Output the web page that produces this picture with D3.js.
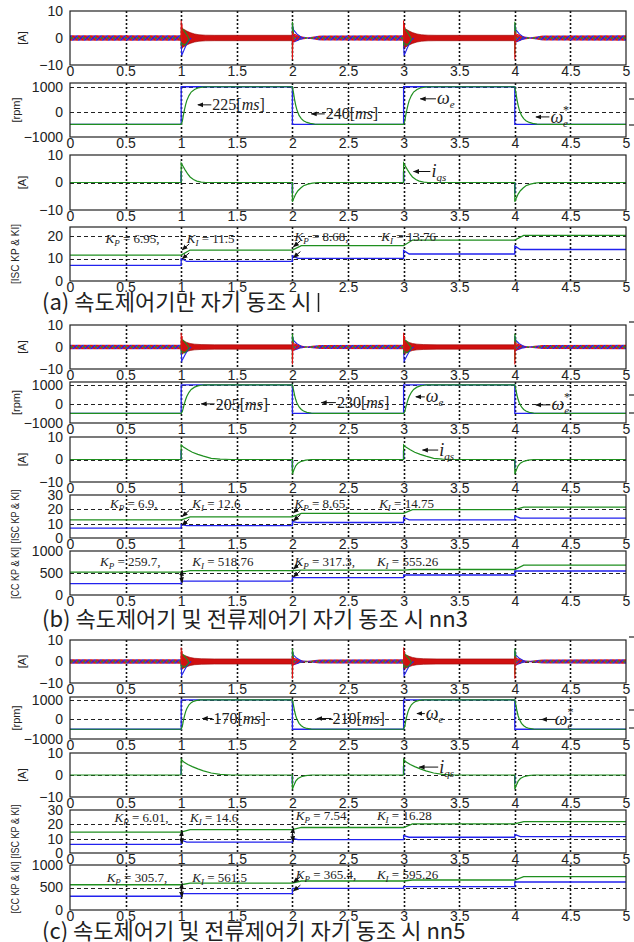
<!DOCTYPE html>
<html>
<head>
<meta charset="utf-8">
<script src="https://cdn.jsdelivr.net/npm/d3@7"></script>
<style>
  body { margin: 0; background: #fff; }
  svg { display: block; }
  .tick text { font-family: "Liberation Sans", Arial, sans-serif; font-size: 14px; fill: #222; }
  .ylab { font-family: "Liberation Sans", Arial, sans-serif; font-size: 11px; fill: #222; }
  .ann { font-family: "Liberation Serif", "Times New Roman", serif; fill: #222; }
  .cap { font-family: "Noto Sans CJK KR", sans-serif; font-size: 22px; fill: #222; }
</style>
</head>
<body>
<svg id="fig"></svg>
<script>
// ---------- data ----------
const xTicks = [0, 0.5, 1, 1.5, 2, 2.5, 3, 3.5, 4, 4.5, 5];
const stepTimes = [1, 2, 3, 4];
const stepDir = ["up", "down", "up", "down"];

// speed command (blue), rpm
const refT = [0, 1, 1, 2, 2, 3, 3, 4, 4, 5];
const refRpm = [-500, -500, 1000, 1000, -500, -500, 1000, 1000, -500, -500];

// measured speed after a step: [s after step, rpm]
const riseA = [[0,-500],[0.01,-380],[0.02,-120],[0.03,100],[0.04,290],[0.05,450],[0.07,650],[0.09,790],[0.12,890],[0.15,950],[0.19,985],[0.225,1000]];
const fallA = [[0,1000],[0.01,760],[0.02,480],[0.03,260],[0.04,90],[0.06,-140],[0.08,-270],[0.1,-350],[0.13,-420],[0.16,-460],[0.2,-487],[0.24,-500]];
const riseB = [[0,-500],[0.01,-400],[0.02,-180],[0.03,40],[0.04,230],[0.05,390],[0.07,610],[0.09,760],[0.12,880],[0.15,945],[0.18,980],[0.205,1000]];
const fallB = [[0,1000],[0.01,740],[0.02,450],[0.03,230],[0.04,60],[0.06,-160],[0.08,-290],[0.1,-370],[0.13,-440],[0.17,-480],[0.2,-493],[0.23,-500]];
const riseC = [[0,-500],[0.01,-350],[0.02,-50],[0.03,200],[0.04,400],[0.05,550],[0.07,750],[0.09,860],[0.11,930],[0.14,975],[0.17,1000]];
const fallC = [[0,1000],[0.01,720],[0.02,420],[0.03,190],[0.04,20],[0.06,-200],[0.08,-320],[0.1,-400],[0.13,-460],[0.17,-490],[0.21,-500]];

// q-axis current after a step: [s after step, A]
const iqUpA = [[0,0],[0,7],[0.015,6],[0.035,4.6],[0.06,3],[0.08,2],[0.11,1.1],[0.14,0.5],[0.18,0.15],[0.22,0]];
const iqDnA = [[0,0],[0,-7],[0.015,-5.5],[0.03,-4.2],[0.05,-3],[0.075,-2],[0.1,-1.2],[0.14,-0.6],[0.18,-0.2],[0.23,0]];
const iqUpB = [[0,0],[0,6.5],[0.02,5.5],[0.06,4.3],[0.1,3.2],[0.15,2.3],[0.2,1.5],[0.27,0.5],[0.35,0.15],[0.45,0]];
const iqDnB = [[0,0],[0,-6.5],[0.015,-4.5],[0.03,-2.8],[0.05,-1.6],[0.08,-0.8],[0.12,-0.3],[0.17,0]];
const iqUpC = [[0,0],[0,7.2],[0.02,6],[0.06,4.8],[0.1,3.8],[0.15,2.8],[0.2,1.9],[0.27,0.9],[0.35,0.3],[0.45,0]];
const iqDnC = [[0,0],[0,-6.5],[0.015,-4.5],[0.03,-2.8],[0.05,-1.6],[0.08,-0.8],[0.12,-0.3],[0.17,0]];
const iqRefUp = [[0,0],[0,4]];
const iqRefDn = [[0,0],[0,-4]];

// phase-current ripple envelope, A: high speed (after up step) and low speed (after down step)
const bandUpA = [[0,3.8],[0.02,3.3],[0.05,2.6],[0.08,2.0],[0.12,1.5],[0.16,1.2],[0.22,1.05],[0.3,1.0],[1,1.0]];
const bandDnA = [[0,1.2],[0.05,0.9],[0.1,0.5],[0.14,0.25],[0.18,0.5],[0.25,0.9],[1,1.0]];
const bandUpB = [[0,3.2],[0.02,2.8],[0.05,2.1],[0.08,1.6],[0.12,1.3],[0.18,1.1],[0.3,1.0],[1,1.0]];
const bandDnB = [[0,1.2],[0.05,0.9],[0.1,0.5],[0.14,0.3],[0.18,0.6],[0.25,0.9],[1,1.0]];
const bandUpC = [[0,3.6],[0.02,3.1],[0.05,2.4],[0.08,1.9],[0.12,1.5],[0.18,1.3],[0.3,1.2],[1,1.2]];
const bandDnC = [[0,1.2],[0.05,0.9],[0.1,0.5],[0.14,0.3],[0.18,0.6],[0.25,0.9],[1,1.1]];
const bandStart = [[0,1.0],[1,1.0]];

// transient excursions of the three phases at a step: [s after step, A]
const upRed = [[0,-1],[0,6.5],[0.004,-1.5],[0.008,5]];
const upBlue = [[0,0],[0.004,-6.5],[0.015,-5.5],[0.03,-4],[0.05,-2.2],[0.07,-0.8],[0.09,0]];
const upGreen = [[0,-3],[0.003,3.5],[0.02,3],[0.04,1.8],[0.06,0.5],[0.07,-0.5],[0.05,-1.8],[0.03,-2.6],[0.01,-2]];
const dnRed = [[0,2.5],[0,-8],[0.005,1.5],[0.03,1.2],[0.06,0.4],[0.03,-0.8],[0.008,-1.5]];
const dnBlue = [[0,-2],[0,5],[0.01,3],[0.04,1.5],[0.08,0.3],[0.05,-0.8],[0.01,-1.5]];
const dnGreen = [[0,-6],[0,6],[0.01,1.5]];

// controller gains per interval 0-1,1-2,2-3,3-4,4-5
const iscKiA = [11.5, 13.76, 15.7, 18.2, 20.3];
const iscKpA = [6.95, 8.68, 10.1, 12.0, 14.0];
const iscKpKickA = [10, 11.2, 13.6, 15.6];
const iscKiB = [12.6, 14.75, 17.2, 19.8, 21.5];
const iscKpB = [6.9, 8.65, 10.8, 12.6, 13.8];
const iscKpKickB = [9.3, 11.5, 14.3, 15.4];
const ccKiB = [518.76, 555.26, 565, 580, 680];
const ccKpB = [259.7, 317.3, 395, 455, 545];
const iscKiC = [14.6, 16.28, 17.8, 20.3, 21.9];
const iscKpC = [6.01, 7.54, 9.3, 11.0, 11.4];
const iscKpKickC = [9, 10.2, 12.2, 13];
const ccKiC = [561.5, 595.26, 644, 667, 740];
const ccKpC = [305.7, 365.4, 482, 518, 622];

// tick values per axis type
const curTicks = [-10, 0, 10];
const spdTicks = [-1000, 0, 1000];
const iscTicksA = [0, 10, 20];
const iscTicks = [0, 10, 20, 30];
const ccTicks = [0, 500, 1000];

// ---------- drawing ----------
const W = 634, H = 942;
const BLUE = "#2222ee", GREEN = "#1f8f1f", RED = "#e01010";
const svg = d3.select("#fig").attr("width", W).attr("height", H);
const defs = svg.append("defs");
defs.append("marker").attr("id", "arr").attr("viewBox", "0 0 10 10")
  .attr("refX", 9).attr("refY", 5).attr("markerWidth", 6).attr("markerHeight", 6)
  .attr("orient", "auto")
  .append("path").attr("d", "M0,1L10,5L0,9z").attr("fill", "#111");

const x = d3.scaleLinear().domain([0, 5]).range([70, 626]);
const crisp = v => Math.round(v) + 0.5;
let nid = 0;

function makePlot(top, bottom, yDom, yTicks, label, labelX, labelLen) {
  const y = d3.scaleLinear().domain(yDom).range([bottom, top]);
  const g = svg.append("g");
  const id = "clip" + (nid++);
  defs.append("clipPath").attr("id", id).append("rect")
    .attr("x", x(0)).attr("y", top).attr("width", x(5) - x(0)).attr("height", bottom - top);

  g.append("rect").attr("x", x(0)).attr("y", top).attr("width", x(5) - x(0)).attr("height", bottom - top).attr("fill", "#fff");
  // grid
  g.append("g").selectAll("line").data(yTicks.filter(v => v > yDom[0] && v < yDom[1])).join("line")
    .attr("x1", x(0)).attr("x2", x(5)).attr("y1", d => crisp(y(d))).attr("y2", d => crisp(y(d)))
    .attr("stroke", "#222").attr("stroke-width", 1).attr("stroke-dasharray", "4,3");
  g.append("g").selectAll("line").data(xTicks.slice(1, -1)).join("line")
    .attr("x1", d => crisp(x(d))).attr("x2", d => crisp(x(d))).attr("y1", top).attr("y2", bottom)
    .attr("stroke", "#111").attr("stroke-width", 1.6).attr("stroke-dasharray", "2,2");

  const data = g.append("g").attr("clip-path", `url(#${id})`);
  const over = g.append("g");

  g.append("rect").attr("x", x(0)).attr("y", top).attr("width", x(5) - x(0)).attr("height", bottom - top)
    .attr("fill", "none").attr("stroke", "#222").attr("stroke-width", 1.2);

  g.append("g").attr("transform", `translate(0,${bottom})`)
    .call(d3.axisBottom(x).tickValues(xTicks).tickFormat(d3.format("~g")).tickSize(0).tickPadding(1))
    .call(a => a.select(".domain").remove());
  g.append("g").attr("transform", `translate(${x(0)},0)`)
    .call(d3.axisLeft(y).tickValues(yTicks).tickFormat(d3.format("d")).tickSize(0).tickPadding(7))
    .call(a => a.select(".domain").remove());

  const lt = g.append("text").attr("class", "ylab")
    .attr("transform", `translate(${labelX},${(top + bottom) / 2}) rotate(-90)`)
    .attr("text-anchor", "middle").attr("dy", "0.35em").text(label);
  if (labelLen) lt.attr("textLength", labelLen).attr("lengthAdjust", "spacingAndGlyphs");

  return { y, g, data, over, top, bottom };
}

const lineOf = (p) => d3.line().x(d => x(d[0])).y(d => p.y(d[1]));

function shifted(shape, t0) { return shape.map(([dt, v]) => [t0 + dt, v]); }

function drawCurrent(p, bandUp, bandDn) {
  // tri-colour hatch for the low-speed ripple
  const pid = "hatch" + (nid++);
  const pat = defs.append("pattern").attr("id", pid).attr("patternUnits", "userSpaceOnUse")
    .attr("width", 6).attr("height", 6).attr("y", p.y(0) - 3);
  pat.append("rect").attr("width", 6).attr("height", 6).attr("fill", "#b04060");
  pat.append("path").attr("d", "M0,0L6,6").attr("stroke", RED).attr("stroke-width", 1.8);
  pat.append("path").attr("d", "M0,6L6,0").attr("stroke", BLUE).attr("stroke-width", 1.3);
  pat.append("circle").attr("cx", 0).attr("cy", 3).attr("r", 1).attr("fill", GREEN);
  pat.append("circle").attr("cx", 6).attr("cy", 3).attr("r", 1).attr("fill", GREEN);

  const area = d3.area().x(d => x(d[0])).y0(d => p.y(-d[1])).y1(d => p.y(d[1]));
  const lows = [bandStart, shifted(bandDn, 2), shifted(bandDn, 4)];
  p.data.selectAll(".low").data(lows).join("path").attr("class", "low")
    .attr("d", area).attr("fill", `url(#${pid})`);
  const highs = [shifted(bandUp, 1), shifted(bandUp, 3)];
  p.data.selectAll(".high").data(highs).join("path").attr("class", "high")
    .attr("d", area).attr("fill", "#d01010").attr("stroke", "#900").attr("stroke-width", 0.6);

  const tr = [];
  stepTimes.forEach((s, i) => {
    const up = stepDir[i] === "up";
    tr.push({ pts: shifted(up ? upBlue : dnBlue, s), c: BLUE });
    tr.push({ pts: shifted(up ? upGreen : dnGreen, s), c: GREEN });
    tr.push({ pts: shifted(up ? upRed : dnRed, s), c: RED });
  });
  p.data.selectAll(".tr").data(tr).join("path").attr("class", "tr")
    .attr("d", d => lineOf(p)(d.pts)).attr("fill", "none").attr("stroke", d => d.c).attr("stroke-width", 1.1);
}

function drawSpeed(p, rise, fall) {
  const ref = refT.map((t, i) => [t, refRpm[i]]);
  p.data.append("path").attr("d", lineOf(p)(ref)).attr("fill", "none").attr("stroke", BLUE).attr("stroke-width", 1.3);
  const pts = [[0, refRpm[0]]];
  stepTimes.forEach((s, i) => pts.push(...shifted(stepDir[i] === "up" ? rise : fall, s)));
  pts.push([5, refRpm[refRpm.length - 1]]);
  p.data.append("path").attr("d", lineOf(p)(pts)).attr("fill", "none").attr("stroke", GREEN).attr("stroke-width", 1.2);
}

function drawIq(p, upS, dnS) {
  const pts = [[0, 0]];
  stepTimes.forEach((s, i) => pts.push(...shifted(stepDir[i] === "up" ? upS : dnS, s)));
  pts.push([5, 0]);
  stepTimes.forEach((s, i) => {
    p.data.append("path").attr("d", lineOf(p)(shifted(stepDir[i] === "up" ? iqRefUp : iqRefDn, s)))
      .attr("stroke", BLUE).attr("stroke-width", 1.6);
  });
  p.data.append("path").attr("d", lineOf(p)(pts)).attr("fill", "none").attr("stroke", GREEN).attr("stroke-width", 1.2);
}

function drawGains(p, ki, kp, kick) {
  const g1 = [[0, ki[0]]];
  stepTimes.forEach((s, i) => { g1.push([s, ki[i]], [s + 0.08, ki[i + 1]]); });
  g1.push([5, ki[4]]);
  const b1 = [[0, kp[0]]];
  stepTimes.forEach((s, i) => {
    if (kick) b1.push([s, kp[i]], [s, kick[i]], [s + 0.05, kp[i + 1]]);
    else b1.push([s, kp[i]], [s, kp[i + 1]]);
  });
  b1.push([5, kp[4]]);
  p.data.append("path").attr("d", lineOf(p)(b1)).attr("fill", "none").attr("stroke", BLUE).attr("stroke-width", 1.3);
  p.data.append("path").attr("d", lineOf(p)(g1)).attr("fill", "none").attr("stroke", GREEN).attr("stroke-width", 1.3);
}

// ---------- annotations ----------
function arrowText(p, tTip, v, tText, build, size) {
  p.over.append("line").attr("x1", x(tText) - 1).attr("x2", x(tTip)).attr("y1", p.y(v)).attr("y2", p.y(v))
    .attr("stroke", "#111").attr("stroke-width", 1).attr("marker-end", "url(#arr)");
  const t = p.over.append("text").attr("class", "ann").attr("x", x(tText)).attr("y", p.y(v))
    .attr("dy", "0.35em").style("font-size", (size || 16) + "px");
  build(t);
}
const msText = (n) => (t) => { t.append("tspan").text(n + "["); t.append("tspan").attr("font-style", "italic").text("ms"); t.append("tspan").text("]"); };
const omega = (star) => (t) => {
  t.append("tspan").attr("font-style", "italic").style("font-size", "18px").text("ω");
  t.append("tspan").attr("font-style", "italic").style("font-size", "11px").attr("dy", 4).text("e");
  if (star) t.append("tspan").style("font-size", "12px").attr("dx", -5).attr("dy", -13).text("*");
};
const iqsText = (t) => {
  t.append("tspan").attr("font-style", "italic").style("font-size", "18px").text("i");
  t.append("tspan").attr("font-style", "italic").style("font-size", "11px").attr("dy", 4).text("qs");
};
function gainText(p, t0, v, kpStr, t1, kiStr) {
  const add = (tt, sub, val) => {
    const t = p.over.append("text").attr("class", "ann").attr("x", x(tt)).attr("y", p.y(v)).attr("dy", "0.35em").style("font-size", "13px");
    t.append("tspan").attr("font-style", "italic").text("K");
    t.append("tspan").attr("font-style", "italic").style("font-size", "9px").attr("dy", 3).text(sub);
    t.append("tspan").attr("dy", -3).text(" = " + val);
  };
  add(t0, "P", kpStr);
  add(t1, "I", kiStr);
}
function smallArrow(p, t, v, dxPx, dyPx) {
  p.over.append("line").attr("x1", x(t) + dxPx).attr("y1", p.y(v) + dyPx).attr("x2", x(t) + 1).attr("y2", p.y(v))
    .attr("stroke", "#111").attr("stroke-width", 1).attr("marker-end", "url(#arr)");
}

// ---------- panel (a) ----------
const a1 = makePlot(11, 65, [-10, 10], curTicks, "[A]", 22);
const a2 = makePlot(83, 137, [-1000, 1150], spdTicks, "[rpm]", 16);
const a3 = makePlot(155, 210, [-10, 10], curTicks, "[A]", 22);
const a4 = makePlot(227, 281, [0, 24], iscTicksA, "[ISC KP & KI]", 15, 60);
drawCurrent(a1, bandUpA, bandDnA);
drawSpeed(a2, riseA, fallA);
drawIq(a3, iqUpA, iqDnA);
drawGains(a4, iscKiA, iscKpA, iscKpKickA);
arrowText(a2, 1.15, 280, 1.28, msText("225"));
arrowText(a2, 2.17, -80, 2.3, msText("240"));
arrowText(a2, 3.15, 520, 3.3, omega(false));
arrowText(a2, 4.19, -200, 4.32, omega(true));
arrowText(a3, 3.09, 4.0, 3.25, iqsText);
gainText(a4, 0.32, 18.7, "6.95,", 1.05, "11.5");
gainText(a4, 2.02, 19.6, "8.68,", 2.8, "13.76");
smallArrow(a4, 1, 13.8, 8, -6); smallArrow(a4, 1, 9.8, 8, -6);
smallArrow(a4, 2, 15.2, 8, -6); smallArrow(a4, 2, 10.4, 8, -6);

// ---------- panel (b) ----------
const b1 = makePlot(325, 369, [-10, 10], curTicks, "[A]", 22);
const b2 = makePlot(382, 423, [-1000, 1150], spdTicks, "[rpm]", 16);
const b3 = makePlot(437, 482, [-10, 10], curTicks, "[A]", 22);
const b4 = makePlot(495, 538, [0, 30], iscTicks, "[ISC KP & KI]", 15, 54);
const b5 = makePlot(551, 595, [0, 1000], ccTicks, "[CC KP & KI]", 15, 52);
drawCurrent(b1, bandUpB, bandDnB);
drawSpeed(b2, riseB, fallB);
drawIq(b3, iqUpB, iqDnB);
drawGains(b4, iscKiB, iscKpB, iscKpKickB);
drawGains(b5, ccKiB, ccKpB, null);
arrowText(b2, 1.18, 0, 1.31, msText("205"));
arrowText(b2, 2.26, 70, 2.4, msText("230"));
arrowText(b2, 3.11, 370, 3.2, omega(false));
arrowText(b2, 4.19, -50, 4.33, omega(true));
arrowText(b3, 3.17, 4.2, 3.32, iqsText);
gainText(b4, 0.36, 23.8, "6.9,", 1.1, "12.6");
gainText(b4, 2.02, 23.8, "8.65,", 2.78, "14.75");
gainText(b5, 0.27, 773, "259.7,", 1.1, "518.76");
gainText(b5, 2.02, 773, "317.3,", 2.76, "555.26");
smallArrow(b4, 1, 15, 8, -6); smallArrow(b4, 1, 9, 8, -6);
smallArrow(b4, 2, 17.5, 8, -6); smallArrow(b4, 2, 12, 8, -6);
smallArrow(b5, 1, 560, 0, 7); smallArrow(b5, 1, 280, 0, -7);
smallArrow(b5, 2, 590, 8, -6); smallArrow(b5, 2, 410, 8, -6);

// ---------- panel (c) ----------
const c1 = makePlot(640, 683, [-10, 10], curTicks, "[A]", 22);
const c2 = makePlot(697, 739, [-1000, 1150], spdTicks, "[rpm]", 16);
const c3 = makePlot(753, 797, [-10, 10], curTicks, "[A]", 22);
const c4 = makePlot(810, 853, [0, 30], iscTicks, "[ISC KP & KI]", 15, 54);
const c5 = makePlot(865, 910, [0, 1000], ccTicks, "[CC KP & KI]", 15, 52);
drawCurrent(c1, bandUpC, bandDnC);
drawSpeed(c2, riseC, fallC);
drawIq(c3, iqUpC, iqDnC);
drawGains(c4, iscKiC, iscKpC, iscKpKickC);
drawGains(c5, ccKiC, ccKpC, null);
arrowText(c2, 1.19, 50, 1.29, msText("170"));
arrowText(c2, 2.22, 50, 2.36, msText("210"));
arrowText(c2, 3.12, 300, 3.2, omega(false));
arrowText(c2, 4.24, 0, 4.36, omega(true));
arrowText(c3, 3.14, 3.6, 3.32, iqsText);
gainText(c4, 0.4, 24.5, "6.01,", 1.08, "14.6");
gainText(c4, 2.03, 26.5, "7.54,", 2.76, "16.28");
gainText(c5, 0.33, 733, "305.7,", 1.1, "561.5");
gainText(c5, 2.03, 800, "365.4,", 2.76, "595.26");
smallArrow(c4, 1, 15.5, 0, 7); smallArrow(c4, 1, 6.5, 0, -7);
smallArrow(c4, 2, 17.5, 0, 7); smallArrow(c4, 2, 8, 0, -7);
smallArrow(c5, 1, 590, 0, 7); smallArrow(c5, 1, 290, 0, -7);
smallArrow(c5, 2, 610, 8, -6); smallArrow(c5, 2, 420, 8, -6);

// ---------- captions and stray marks ----------
const caps = [
  { y: 310, t: "(a) 속도제어기만 자기 동조 시" },
  { y: 627, t: "(b) 속도제어기 및 전류제어기 자기 동조 시 nn3" },
  { y: 939, t: "(c) 속도제어기 및 전류제어기 자기 동조 시 nn5" }
];
svg.selectAll(".cap").data(caps).join("text").attr("class", "cap")
  .attr("x", 42).attr("y", d => d.y).text(d => d.t);
svg.append("line").attr("x1", 318.5).attr("x2", 318.5).attr("y1", 293).attr("y2", 312).attr("stroke", "#222").attr("stroke-width", 1.5);
[99, 125, 322, 395, 413, 637, 710, 728].forEach(yy =>
  svg.append("line").attr("x1", 629).attr("x2", 634).attr("y1", yy).attr("y2", yy).attr("stroke", "#222").attr("stroke-width", 1.2));
</script>
</body>
</html>
